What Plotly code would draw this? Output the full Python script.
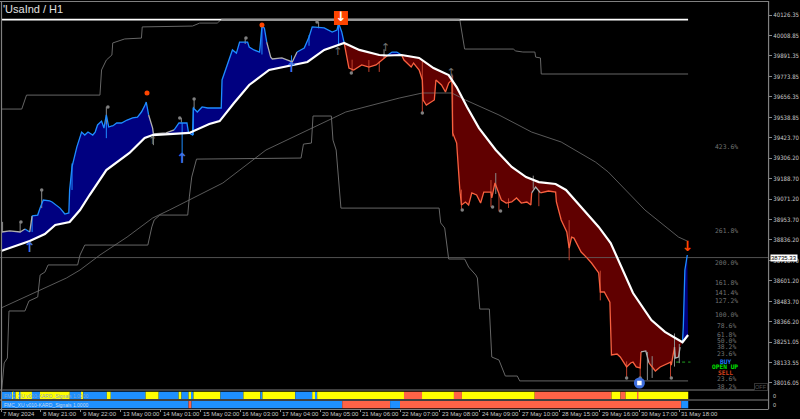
import plotly.graph_objects as go

# ---------- data (bar index, price) ----------
ma_bar = [0,18,27.5,34,43,49.5,55.5,66,80.5,90,95,118,130.5,137,146,155.5,168,180.5,192,202.5,215,224.5,237,242,251,262,271,280.5,285.5,292,299.5,310,320,329,337,347.5,354,364,374.5,382,388,396,407.5,416,427,430.5]
ma_val = [38773,38830,38870,38922,38939,39008,39094,39237,39335,39421,39438,39450,39501,39518,39622,39725,39811,39834,39857,39926,39966,39926,39897,39894,39897,39880,39822,39782,39713,39599,39478,39352,39255,39197,39168,39157,39123,39019,38911,38819,38693,38532,38377,38309,38250,38291]

slow_bar = [0,20,41,49.5,62,79,95,105.5,139,166,195,216,249.5,264,282.5,291,312,332.5,351,372.5,380.5,403.5,424.5,430]
slow_val = [38446,38532,38618,38664,38750,38853,38962,39008,39163,39352,39478,39570,39650,39679,39679,39639,39553,39455,39398,39283,39226,39008,38853,38830]

upper_bar = [0,13,16,62,63,66,69.5,70,77.5,88,88.5,120,124.5,135.5,138,287.5,290.5,321,322.5,327,334.5,335,338,338.5,430.5]
upper_val = [39587,39587,39667,39667,39811,39868,39897,39966,39989,39994,40058,40063,40080,40080,40100,40098,39931,39931,39920,39914,39914,39885,39880,39788,39788]

lower_bar = [0.5,2,4,5,15,17.5,23,24.5,27.5,29.5,48,49.5,52.5,92,94.5,96,99.5,117,118,119.5,122.5,188,189.5,194.5,195.5,207,208,210,213,274.5,275.5,278,280.5,290.5,293,297.5,298.5,300,306,307.5,312,316,323.5,325,430.5]
lower_val = [37982,38131,38159,38429,38429,38486,38509,38635,38652,38693,38693,38750,38807,38807,38911,38951,38979,38979,39083,39197,39300,39306,39386,39392,39547,39547,39409,39352,39019,39019,38934,38905,38727,38727,38681,38635,38618,38440,38440,38165,38148,38056,38056,38028,38028]

close_bar = [0.5,5.5,12,15,18,19.5,23,24.5,26.5,30.5,32,37,40,42.5,43,44.5,47.5,50.5,52.5,54.5,57.5,59,60.5,63,64.5,66,67.5,69.5,70,72.5,75.5,79,82.5,85.5,88,90,91,92.5,95,95.5,103.5,108.5,111.5,116.5,117.5,120,120.5,123,126,129.5,132.5,135.5,138,138.5,141,143,145,147.5,149.5,154.5,155.5,158.5,162,163.5,165,166.5,169,170,176,182.5,185.5,190,193,195,202.5,207.5,210.5,211.5,213.5,215,216.5,218,221,226,230.5,235,241,242,245,248,251,252.5,257,258.5,262,264,264.5,266.5,271.5,272.5,276,278.5,280.5,282.5,283,285.5,287.5,288.5,291,293,295,298,300.5,302.5,307,307.5,309.5,311,313.5,316.5,320,323,326,329.5,332,332.5,335,338,343,347.5,348,351,354.5,356,357.5,359,363.5,367,370,374.5,375.5,378,381.5,382.5,386,388,390,392,394.5,396,398,400.5,401,404,406,408,410,413,416,419.5,420,422,422.5,424.5,425.5,427,427.5,428.5,430]
close_val = [38882,38888,38882,38899,38882,38974,38979,39019,39065,39060,39054,39019,38985,38991,39123,39255,39369,39455,39438,39455,39438,39455,39496,39518,39478,39553,39484,39490,39490,39507,39507,39524,39536,39541,39570,39605,39627,39553,39478,39444,39450,39467,39507,39507,39450,39438,39593,39570,39599,39593,39593,39593,39593,39754,39822,39868,39926,39908,39971,39971,39943,39926,39914,40058,40052,39971,39885,39874,39880,39857,39914,39937,40000,40058,40052,40029,40040,40080,40029,39966,39885,39822,39811,39840,39828,39840,39885,39894,39914,39914,39897,39868,39828,39851,39811,39754,39639,39610,39639,39754,39725,39685,39736,39754,39450,39392,39123,39037,39054,39037,39106,39094,39048,39111,39111,39077,39163,39123,39065,39048,39054,39077,39048,39054,39037,39106,39140,39106,39117,39111,39054,38951,38882,38790,38853,38847,38767,38735,38704,38647,38538,38538,38480,38177,38182,38165,38136,38108,38131,38136,38108,38102,38194,38200,38131,38108,38085,38108,38119,38136,38119,38222,38159,38165,38222,38250,38337,38664,38750]

BLUE, RED, GREY = "#1e8cff", "#f8603f", "#b0b0b0"
fill_ranges = [(0,215,"#000080"),(215,242,"#600000"),(242,251,"#000080"),(251,427,"#600000"),(427,430.5,"#000080")]
line_ranges = [(0,15,GREY),(15,18,BLUE),(18,19.5,GREY),(19.5,92.5,BLUE),(92.5,108.5,GREY),(108.5,166.5,BLUE),
               (166.5,185.5,GREY),(185.5,215,BLUE),(215,242,RED),(242,251,BLUE),(251,332.5,RED),(332.5,338,GREY),
               (338,401,RED),(401,406,GREY),(406,422,RED),(422,425.5,GREY),(427,430,BLUE)]

wick_blue = [(19.5,38882,38974),(44.5,39123,39275),(66,39420,39525),(113.5,39285,39507),(120.5,39438,39600),(163.5,39900,40069),(182,39800,39895),(211.5,39955,40086),(193,39950,40010)]
wick_red  = [(220,39800,39870),(230.5,39800,39868),(237,39800,39860),(264,39564,39868),(283,39430,39780),(288.5,39010,39125),(307,39025,39180),(312,39000,39100),(318,39020,39075),(337,39030,39120),(356,38720,38950),(375.5,38490,38660),(392,38045,38140),(400.5,38045,38130),(419.5,38045,38140)]
wick_grey = [(1,38882,38940),(12,38880,38940),(25.5,39019,39120),(66,39500,39600),(95.5,39380,39450),(113,39510,39536),(121,39590,39645),(153,39960,39994),(199,40050,40086),(240,39880,39930),(282.5,39750,39790),(310,39100,39220),(333.5,39130,39205),(405,38033,38194),(408,38045,38170),(422,38110,38300),(425,38130,38240)]

dot_bar = [12.5,25.5,67,112,121,153.5,198,219.5,264,289,308,313,392,400.5,420]
dot_val = [38939,39123,39599,39536,39645,39994,40086,39794,39564,39008,39025,39002,38045,38045,38045]
peak_bar = [91.5,163.5]
peak_val = [39679,40069]

up_bar = [18,113.5,182]
up_val = [38790,39295,39820]
gup_bar = [95,211,241,282]
gup_val = [39405,39915,39935,39790]

tick_vals = [40126.35,40008.85,39891.35,39773.85,39656.35,39538.85,39423.70,39306.20,39188.70,39071.20,38953.70,38836.20,38718.70,38601.20,38483.70,38366.20,38251.05,38133.55,38016.05]
date_labels = ["7 May 2024","8 May 21:00","9 May 22:00","13 May 00:00","14 May 01:00","15 May 02:00","16 May 03:00","17 May 04:00","20 May 05:00","21 May 06:00","22 May 07:00","23 May 08:00","24 May 09:00","27 May 10:00","28 May 15:00","29 May 16:00","30 May 17:00","31 May 18:00"]
date_bars = [i*25 for i in range(len(date_labels))]

strip1_edges = [0,6.9,8.1,9.1,11.3,12.2,19.4,24.4,43.1,50.6,51.6,66.3,68.8,90.6,98.8,111.3,113.1,117.5,119.4,120.6,137.5,151.9,162.5,163.8,184.4,195,196.9,198.1,252.5,263.8,283.8,288.8,334.4,382.5,388.1,391.3,398.8,399.4,430.6]
strip1_cols = ["b","y","b","y","b","y","b","y","b","y","b","y","b","y","b","y","b","y","b","y","b","y","b","y","b","y","b","y","t","y","t","y","t","y","t","y","t","y"]
strip2_edges = [0,117.5,119.4,213.8,243.8,250,426.2,430.6]
strip2_cols = ["b","t","b","t","b","t","b"]
palette = {"b":"#1e90ff","y":"#ffff00","t":"#ff6347"}

fib_levels = [("423.6%",147),("261.8%",231),("200.0%",263),("161.8%",283),("141.4%",293),("127.2%",301),("100.0%",315),("78.6%",326),("61.8%",335),("50.0%",341),("38.2%",347),("23.6%",354),("23.6%",379),("38.2%",387)]

# ---------- helpers ----------
W, H = 800, 419
def px(x): return x / W
def py(y): return 1 - y / H
def piece(xs, ys, lo, hi):
    pts = [(a, b) for a, b in zip(xs, ys) if lo <= a <= hi]
    return [p[0] for p in pts], [p[1] for p in pts]
def segs(rows):
    xs, ys = [], []
    for b, lo, hi in rows:
        xs += [b, b, None]; ys += [lo, hi, None]
    return xs, ys

fig = go.Figure()
for lo, hi, col in fill_ranges:
    mx, my = piece(ma_bar, ma_val, lo, hi)
    cx, cy = piece(close_bar, close_val, lo, hi)
    fig.add_trace(go.Scatter(x=mx, y=my, mode="lines", line=dict(width=0), hoverinfo="skip"))
    fig.add_trace(go.Scatter(x=cx, y=cy, mode="lines", line=dict(width=0), fill="tonexty", fillcolor=col, hoverinfo="skip"))

for xs, ys, col, w in [(upper_bar, upper_val, "#666666", 1), (lower_bar, lower_val, "#666666", 1), (slow_bar, slow_val, "#707070", 0.8)]:
    fig.add_trace(go.Scatter(x=xs, y=ys, mode="lines", line=dict(color=col, width=w)))

fig.add_trace(go.Scatter(x=[0, 430.5], y=[40100, 40100], mode="lines", line=dict(color="#ffffff", width=1.8)))
fig.add_trace(go.Scatter(x=[138, 287.5], y=[40100, 40100], mode="lines", line=dict(color="#9a9a9a", width=1.8)))
fig.add_trace(go.Scatter(x=[-0.6, 480.6], y=[38735.33, 38735.33], mode="lines", line=dict(color="#666666", width=0.8)))
fig.add_trace(go.Scatter(x=[423, 432], y=[38136, 38136], mode="lines", line=dict(color="#1fa01f", width=1, dash="dot")))

for rows, col in [(wick_blue, BLUE), (wick_red, "#c0402c"), (wick_grey, "#8a8a8a")]:
    wx, wy = segs(rows)
    fig.add_trace(go.Scatter(x=wx, y=wy, mode="lines", line=dict(color=col, width=1)))

for lo, hi, col in line_ranges:
    cx, cy = piece(close_bar, close_val, lo, hi)
    fig.add_trace(go.Scatter(x=cx, y=cy, mode="lines", line=dict(color=col, width=1.3)))

fig.add_trace(go.Scatter(x=ma_bar, y=ma_val, mode="lines", line=dict(color="#ffffff", width=2.2)))

fig.add_trace(go.Scatter(x=dot_bar, y=dot_val, mode="markers", marker=dict(color="#808080", size=3.5)))
fig.add_trace(go.Scatter(x=peak_bar, y=peak_val, mode="markers", marker=dict(color="#ff4500", size=5)))
fig.add_trace(go.Scatter(x=up_bar, y=up_val, mode="text", text=["<b>↑</b>"]*3, textfont=dict(family="DejaVu Sans", size=14, color="#3f72e8")))
fig.add_trace(go.Scatter(x=gup_bar, y=gup_val, mode="text", text=["↑"]*4, textfont=dict(family="DejaVu Sans", size=11, color="#707070")))
fig.add_trace(go.Scatter(x=[430], y=[38795], mode="text", text=["<b>↓</b>"], textfont=dict(family="DejaVu Sans", size=14, color="#ff4500")))
fig.add_trace(go.Scatter(x=[213], y=[40109], mode="markers+text", text=["<b>↓</b>"], textposition="middle center",
                         marker=dict(symbol="square", color="#ff4500", size=14),
                         textfont=dict(family="DejaVu Sans", size=13, color="#ffffff")))
fig.add_trace(go.Scatter(x=[400], y=[38016], mode="markers", marker=dict(color="#3d6ddc", size=11)))
fig.add_trace(go.Scatter(x=[400], y=[38016], mode="markers", marker=dict(symbol="square", color="#ffffff", size=4.5)))

def strip(edges, cols, axis):
    starts = edges[:-1]
    lens = [b - a for a, b in zip(edges[:-1], edges[1:])]
    fig.add_trace(go.Bar(y=[0]*len(starts), x=lens, base=starts, orientation="h", width=1,
                         marker=dict(color=[palette[c] for c in cols], line=dict(width=0)), yaxis=axis))
strip(strip1_edges, strip1_cols, "y2")
strip(strip2_edges, strip2_cols, "y3")

LABEL = "#c8c8c8"
fig.update_layout(
    width=W, height=H, margin=dict(l=0, r=0, t=0, b=0), autosize=False, showlegend=False,
    paper_bgcolor="#000000", plot_bgcolor="#000000", barmode="overlay", hovermode=False,
    font=dict(family="Liberation Sans", color=LABEL),
    xaxis=dict(domain=[0, 770/W], range=[-0.625, 480.625], anchor="y3", showgrid=False, zeroline=False,
               tickvals=date_bars, ticks="outside", ticklen=3, tickcolor="#888888", showticklabels=False, showline=False),
    yaxis=dict(domain=[py(389), py(2)], range=[37981.6, 40200.9], side="right", anchor="x", showgrid=False, zeroline=False,
               tickvals=tick_vals, ticktext=[f"{v:.2f}" for v in tick_vals], ticks="outside", ticklen=3, tickcolor="#888888",
               tickfont=dict(size=6, color=LABEL, family="DejaVu Sans Condensed, DejaVu Sans")),
    yaxis2=dict(domain=[py(399), py(391.5)], range=[-0.5, 0.5], anchor="x", showgrid=False, zeroline=False, showticklabels=False),
    yaxis3=dict(domain=[py(408.4), py(401)], range=[-0.5, 0.5], anchor="x", showgrid=False, zeroline=False, showticklabels=False),
)

frame = [(1.5,2,1.5,409),(0,1.5,770.5,1.5),(770.5,1,770.5,409),(0,390,770.5,390),(0,400,770.5,400),(0,409.5,770.5,409.5)]
for x0,y0,x1,y1 in frame:
    fig.add_shape(type="line", xref="paper", yref="paper", x0=px(x0), x1=px(x1), y0=py(y0), y1=py(y1),
                  line=dict(color="#808080", width=1.2))

def note(text, x, y, size=6, color=LABEL, anchor="left", family="Liberation Sans", **kw):
    fig.add_annotation(text=text, x=px(x), y=py(y), xref="paper", yref="paper", showarrow=False, xanchor=anchor,
                       yanchor="middle", font=dict(size=size, color=color, family=family), borderpad=0, **kw)

note("'UsaInd / H1", 2.5, 8.5, size=11, color="#e0e0e0")
for t, y in fib_levels:
    note(t, 728, y, size=6.4, color="#707070", anchor="center", family="DejaVu Sans Mono")
note("<b>BUY</b>", 727, 361.5, size=6.2, color="#1e78ff", anchor="center", family="DejaVu Sans Mono")
note("<b>OPEN UP</b>", 727, 366.5, size=6.2, color="#00e000", anchor="center", family="DejaVu Sans Mono")
note("<b>SELL</b>", 727, 372, size=6.2, color="#d8401c", anchor="center", family="DejaVu Sans Mono")
note("OFF", 763, 387, size=5.5, color="#555555", anchor="center", bordercolor="#333333", borderwidth=1, bgcolor="#000000")
note("FMC_XU v010-KARD_Signals 1.0000", 3, 395.5, size=5, color="#8aa4c8")
note("FMC_XU v010-KARD_Signals 1.0000", 3, 405, size=5, color="#c8d8ee")
note("0", 774, 396, size=5.5)
note("0", 774, 405, size=5.5)
note("38735.33", 772, 257.5, size=6, color="#000000", bgcolor="#ffffff")
for b, t in zip(date_bars, date_labels):
    fig.add_annotation(text=t, x=b, y=py(413.5), xref="x", yref="paper", showarrow=False, xanchor="left", yanchor="middle",
                       font=dict(size=6, color=LABEL, family="Liberation Sans"))

fig.write_html("out.html", config={"displayModeBar": False},
               post_script="document.body.style.margin='0';document.body.style.background='#000';document.body.style.overflow='hidden';")
